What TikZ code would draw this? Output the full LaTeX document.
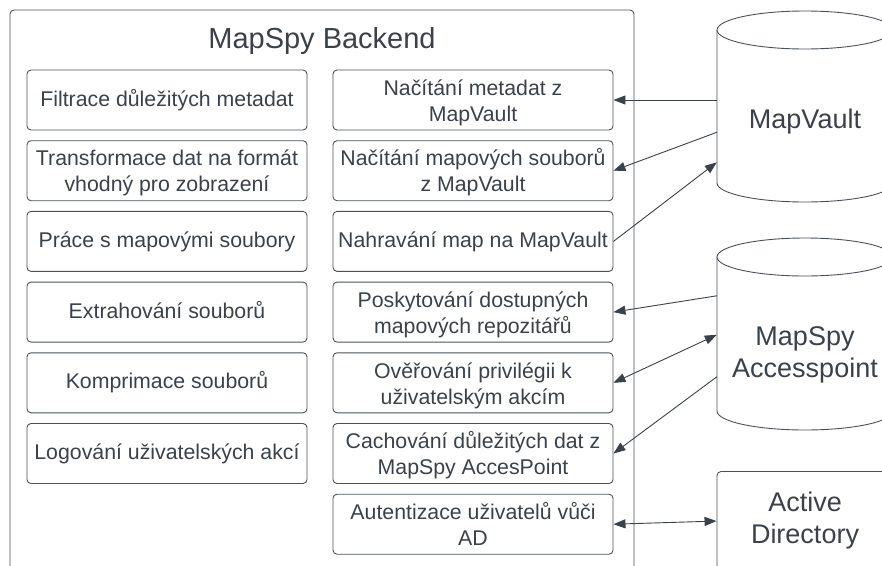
\documentclass[tikz,border=0pt]{standalone}
\usepackage{fontspec}
\setmainfont{Liberation Sans}
\usetikzlibrary{arrows.meta,calc}
\definecolor{ink}{HTML}{3A414A}
\definecolor{edge}{HTML}{4A515A}
\begin{document}
\begin{tikzpicture}[x=1pt,y=-1pt,
  every node/.style={text=ink},
  task/.style={draw=edge, line width=0.9pt, rounded corners=4pt,
    minimum width=280pt, minimum height=60pt, inner sep=0pt,
    text height=17pt, text depth=5pt,
    align=center, font=\fontsize{21.3}{26}\selectfont},
  task2/.style={task, text height=44pt, text depth=1.6pt},
  big/.style={align=center, font=\fontsize{27}{32}\selectfont},
  outline/.style={draw=edge, line width=0.9pt},
  tip/.tip={Triangle[length=12pt,width=9pt]},
  link/.style={draw=ink, line width=0.9pt, -tip},
  twoway/.style={draw=ink, line width=0.9pt, tip-tip}]
\clip (0,0) rectangle (882,565);

% backend container (runs past the bottom edge)
\draw[outline, rounded corners=4pt] (10,600) -- (10,10) -- (634,10) -- (634,600);
\node[anchor=base, font=\fontsize{29}{34}\selectfont] (title) at (322,48) {MapSpy Backend};

% left column
\node[task]  (l1) at (167,100.0) {Filtrace důležitých metadat};
\node[task2] (l2) at (167,170.7) {Transformace dat na formát\\vhodný pro zobrazení};
\node[task]  (l3) at (167,241.4) {Práce s mapovými soubory};
\node[task]  (l4) at (167,312.1) {Extrahování souborů};
\node[task]  (l5) at (167,382.8) {Komprimace souborů};
\node[task]  (l6) at (167,453.5) {Logování uživatelských akcí};

% right column
\node[task2] (r1) at (473,100.0) {Načítání metadat z\\MapVault};
\node[task2] (r2) at (473,170.7) {Načítání mapových souborů\\z MapVault};
\node[task]  (r3) at (473,241.4) {Nahravání map na MapVault};
\node[task2] (r4) at (473,312.1) {Poskytování dostupných\\mapových repozitářů};
\node[task2] (r5) at (473,382.8) {Ověřování privilégii k\\uživatelským akcím};
\node[task2] (r6) at (473,453.5) {Cachování důležitých dat z\\MapSpy AccesPoint};
\node[task2] (r7) at (473,524.2) {Autentizace uživatelů vůči\\AD};

% MapVault cylinder
\node[minimum width=176pt, minimum height=192pt, inner sep=0pt] (mv) at (805,106.5) {};
\draw[outline] (805,30) ellipse [x radius=88pt, y radius=19pt];
\draw[outline] (717,30) -- (717,183)
  arc[start angle=180, end angle=360, x radius=88pt, y radius=19pt] -- (893,30);
\node[big, anchor=base] (mvtext) at (805,128) {MapVault};

% MapSpy Accesspoint cylinder
\node[minimum width=176pt, minimum height=192pt, inner sep=0pt] (ap) at (805,334) {};
\draw[outline] (805,257) ellipse [x radius=88pt, y radius=19pt];
\draw[outline] (717,257) -- (717,411)
  arc[start angle=180, end angle=360, x radius=88pt, y radius=19pt] -- (893,257);
\node[big] (aptext) at (805,355) {MapSpy\\Accesspoint};

% Active Directory
\node[outline, big, rounded corners=4pt, minimum width=176pt, minimum height=98pt,
  inner sep=0pt] (ad) at (805,520.5) {Active\\Directory};

% connectors
\draw[link] (mv.west |- r1.east) -- (r1.east);
\draw[link] ($(mv.north west)+(0,122)$) -- (r2.east);
\draw[link] (r3.east) -- ($(mv.north west)+(0,152)$);
\draw[link] ($(ap.north west)+(0,58)$) -- (r4.east);
\draw[twoway] (r5.east) -- ($(ap.north west)+(0,97)$);
\draw[link] ($(ap.north west)+(0,139)$) -- (r6.east);
\draw[twoway] (r7.east) -- ($(ad.north west)+(0,50)$);
\end{tikzpicture}
\end{document}
